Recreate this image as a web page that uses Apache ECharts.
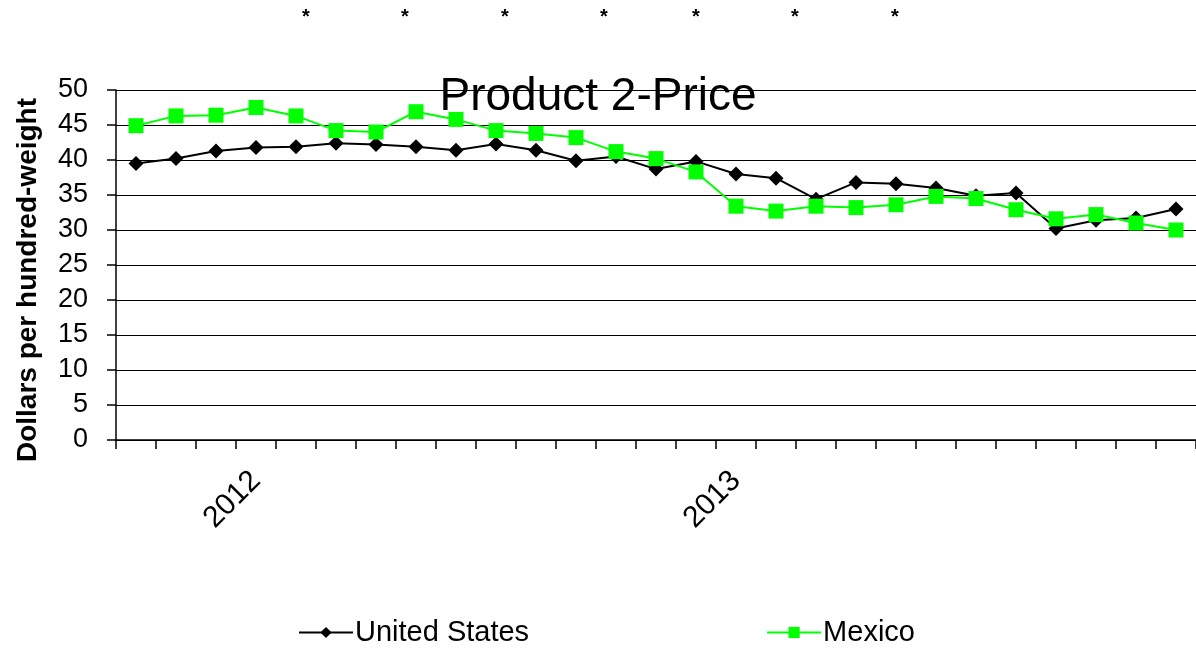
<!DOCTYPE html>
<html>
<head>
<meta charset="utf-8">
<title>Product 2-Price</title>
<script src="https://cdn.jsdelivr.net/npm/echarts@6/dist/echarts.min.js"></script>
<style>
  html, body { margin: 0; padding: 0; background: #fff; }
  #chart { width: 1196px; height: 648px; }
</style>
</head>
<body>
<div id="chart"></div>
<script>
// months Oct 2011 .. Dec 2013
const months = [
  'Oct 2011', 'Nov 2011', 'Dec 2011',
  'Jan 2012', 'Feb 2012', 'Mar 2012', 'Apr 2012', 'May 2012', 'Jun 2012',
  'Jul 2012', 'Aug 2012', 'Sep 2012', 'Oct 2012', 'Nov 2012', 'Dec 2012',
  'Jan 2013', 'Feb 2013', 'Mar 2013', 'Apr 2013', 'May 2013', 'Jun 2013',
  'Jul 2013', 'Aug 2013', 'Sep 2013', 'Oct 2013', 'Nov 2013', 'Dec 2013'
]

const unitedStates = [
  39.5, 40.2, 41.3, 41.8, 41.9, 42.4, 42.2, 41.9, 41.4,
  42.3, 41.4, 39.9, 40.5, 38.7, 39.8, 38.0, 37.4, 34.4,
  36.8, 36.6, 36.0, 34.9, 35.3, 30.2, 31.4, 31.7, 33.0
]

const mexico = [
  44.9, 46.3, 46.4, 47.5, 46.3, 44.2, 44.0, 46.9, 45.8,
  44.2, 43.8, 43.2, 41.2, 40.2, 38.3, 33.4, 32.7, 33.4,
  33.2, 33.6, 34.8, 34.5, 32.9, 31.6, 32.2, 31.0, 30.0
]

const yTicks = [0, 5, 10, 15, 20, 25, 30, 35, 40, 45, 50]

// layout only: the stray asterisks along the top
const starLeft = [306, 405, 505, 604, 696, 795, 895]

const font = '"Liberation Sans", Arial, sans-serif'

const chart = echarts.init(document.getElementById('chart'))

chart.setOption({
  animation: false,
  backgroundColor: '#fff',
  textStyle: { fontFamily: font, color: '#000' },
  title: {
    text: 'Product 2-Price',
    left: 'center',
    top: 69,
    textStyle: { fontFamily: font, fontSize: 46, fontWeight: 'normal', color: '#000' }
  },
  legend: {
    left: 298,
    top: 618,
    padding: 0,
    itemWidth: 54,
    itemHeight: 14,
    itemGap: 237,
    textStyle: { fontFamily: font, fontSize: 29, color: '#000', padding: [0, 0, 0, -3] },
    data: ['United States', 'Mexico']
  },
  grid: {
    left: 116,
    top: 90,
    width: 1085,
    height: 350
  },
  xAxis: {
    type: 'category',
    data: months,
    boundaryGap: true,
    axisLine: { lineStyle: { color: '#000', width: 1.5 } },
    axisTick: { show: true, interval: 0, length: 9, lineStyle: { color: '#000', width: 1.5 } },
    axisLabel: {
      interval: 0,
      rotate: 45,
      margin: 36,
      fontFamily: font,
      fontSize: 30,
      color: '#000',
      formatter: function (v) {
        return v.indexOf('Jan') === 0 ? v.slice(4) : ''
      }
    },
    splitLine: { show: false }
  },
  yAxis: {
    type: 'value',
    min: yTicks[0],
    max: yTicks[yTicks.length - 1],
    interval: yTicks[1] - yTicks[0],
    axisLine: { show: true, lineStyle: { color: '#000', width: 1.5 } },
    axisTick: { show: true, length: 9, lineStyle: { color: '#000', width: 1.5 } },
    axisLabel: { margin: 28, fontFamily: font, fontSize: 27, color: '#000' },
    splitLine: { lineStyle: { color: '#000', width: 1.2 } }
  },
  graphic: [
    {
      type: 'text',
      x: 28,
      y: 280,
      rotation: Math.PI / 2,
      style: {
        text: 'Dollars per hundred-weight',
        font: 'bold 28px ' + font,
        fill: '#000',
        align: 'center',
        verticalAlign: 'middle'
      }
    }
  ].concat(starLeft.map(function (x) {
    return {
      type: 'text',
      x: x,
      y: 17,
      style: {
        text: '*',
        font: 'bold 20px ' + font,
        fill: '#000',
        align: 'center',
        verticalAlign: 'middle'
      }
    }
  })),
  series: [
    {
      name: 'United States',
      type: 'line',
      data: unitedStates,
      symbol: 'diamond',
      symbolSize: 15,
      itemStyle: { color: '#000' },
      lineStyle: { color: '#000', width: 2 }
    },
    {
      name: 'Mexico',
      type: 'line',
      data: mexico,
      symbol: 'rect',
      symbolSize: 15,
      itemStyle: { color: '#00ff00' },
      lineStyle: { color: '#00ff00', width: 2 }
    }
  ]
})
</script>
</body>
</html>
